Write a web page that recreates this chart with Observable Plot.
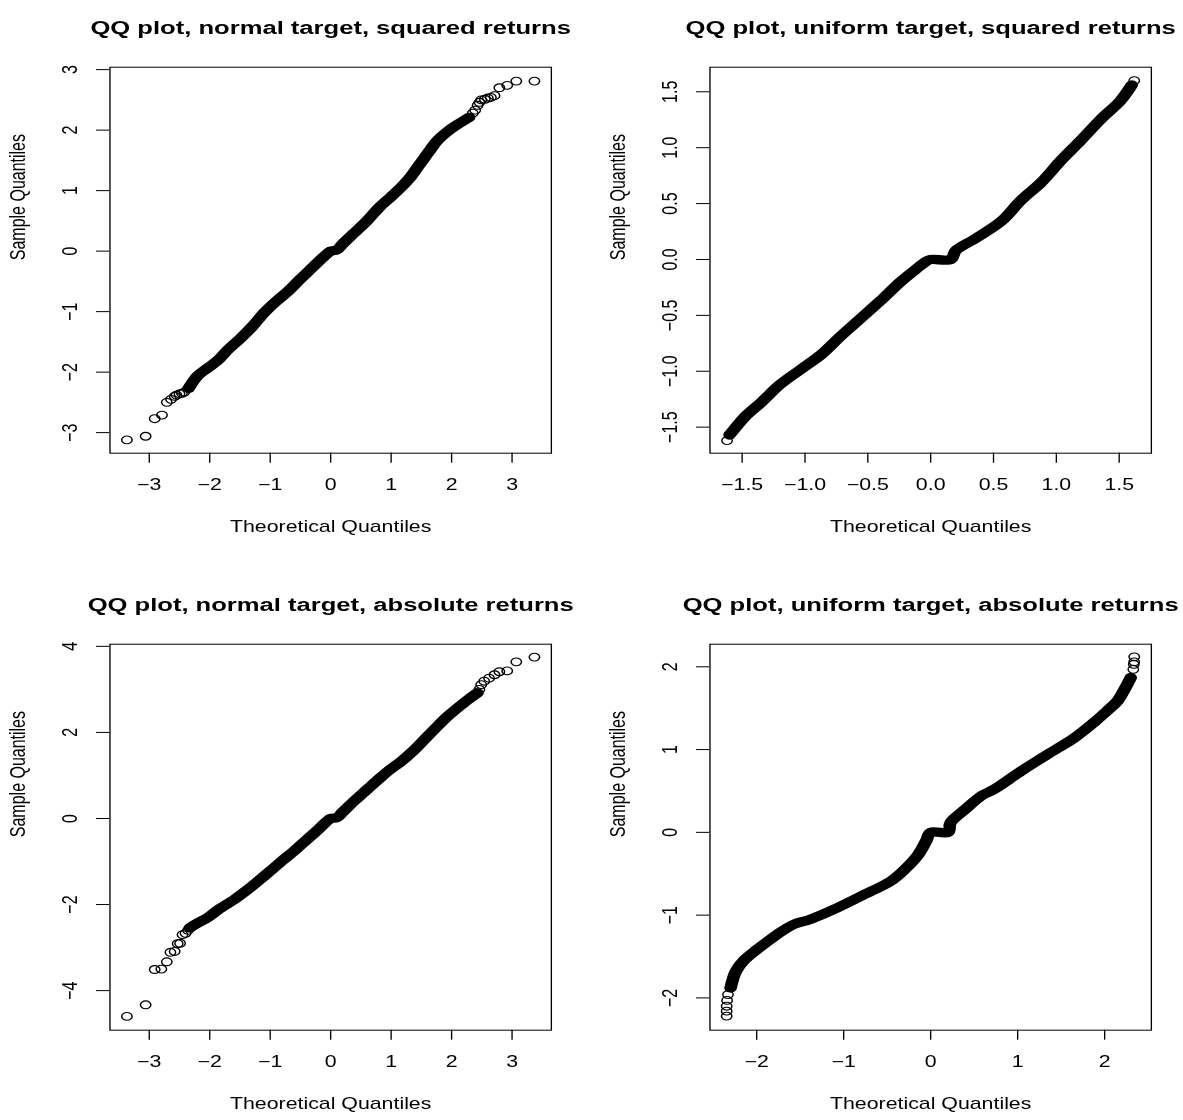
<!DOCTYPE html>
<html>
<head>
<meta charset="utf-8">
<script src="https://cdn.jsdelivr.net/npm/d3@7"></script>
<script src="https://cdn.jsdelivr.net/npm/@observablehq/plot@0.6"></script>
<style>
  html, body { margin: 0; padding: 0; background: #fff; }
  #page { position: relative; width: 1183px; height: 1120px; overflow: hidden; background: #fff; }
  #stretch { position: absolute; left: 0; top: 0; height: 1120px; transform-origin: 0 0; }
  #stretch svg { position: absolute; overflow: visible; }
</style>
</head>
<body>
<div id="page"><div id="stretch"></div></div>
<script>
// ---- text ----
const titles = [
  "QQ plot, normal target, squared returns",
  "QQ plot, uniform target, squared returns",
  "QQ plot, normal target, absolute returns",
  "QQ plot, uniform target, absolute returns"
];
const xLabel = "Theoretical Quantiles";
const yLabel = "Sample Quantiles";

// ---- tick values ----
const ticksNormX = [-3, -2, -1, 0, 1, 2, 3];
const ticksP1Y = [-3, -2, -1, 0, 1, 2, 3];
const ticksP2 = [-1.5, -1.0, -0.5, 0.0, 0.5, 1.0, 1.5];
const ticksP3Y = [-4, -2, 0, 2, 4];
const ticksP4 = [-2, -1, 0, 1, 2];

// ---- panel 1: normal target, squared returns (theoretical, sample) ----
const p1Band = [[-2.35,-2.27],[-2.2,-2.06],[-2.03,-1.93],[-1.86,-1.8],[-1.7,-1.63],[-1.5,-1.45],[-1.3,-1.25],[-1.1,-1.02],[-0.9,-0.83],[-0.7,-0.66],[-0.5,-0.46],[-0.3,-0.27],[-0.1,-0.08],[0,0],[0.1,0.02],[0.2,0.12],[0.4,0.31],[0.6,0.5],[0.8,0.72],[1.0,0.9],[1.17,1.06],[1.3,1.2],[1.44,1.39],[1.55,1.54],[1.63,1.65],[1.74,1.8],[1.83,1.89],[1.99,2.02],[2.16,2.13],[2.29,2.21]];
const p1Tail = [[-3.37,-3.12],[-3.06,-3.06],[-2.91,-2.77],[-2.79,-2.71],[-2.71,-2.5],[-2.64,-2.45],[-2.58,-2.4],[-2.55,-2.38],[-2.5,-2.36],[-2.46,-2.35],[-2.42,-2.33],[2.35,2.28],[2.39,2.33],[2.43,2.41],[2.46,2.46],[2.49,2.5],[2.55,2.51],[2.6,2.53],[2.65,2.54],[2.71,2.57],[2.79,2.7],[2.92,2.74],[3.07,2.81],[3.37,2.81]];

// ---- panel 2: uniform target, squared returns ----
const p2Band = [[-1.6,-1.57],[-1.55,-1.5],[-1.48,-1.41],[-1.34,-1.27],[-1.2,-1.12],[-1.03,-0.98],[-0.87,-0.85],[-0.72,-0.69],[-0.56,-0.53],[-0.4,-0.37],[-0.24,-0.2],[-0.12,-0.09],[-0.04,-0.02],[0,0],[0.16,0],[0.2,0.08],[0.36,0.19],[0.56,0.34],[0.72,0.53],[0.88,0.69],[1.04,0.89],[1.19,1.06],[1.35,1.25],[1.51,1.42],[1.6,1.56]];
const p2Tail = [[-1.62,-1.62],[1.62,1.6]];

// ---- panel 3: normal target, absolute returns ----
const p3Band = [[-2.33,-2.54],[-2.2,-2.43],[-2.03,-2.3],[-1.86,-2.12],[-1.59,-1.88],[-1.37,-1.65],[-1.15,-1.4],[-1.0,-1.22],[-0.8,-0.98],[-0.6,-0.75],[-0.4,-0.5],[-0.2,-0.25],[-0.05,-0.05],[0,0],[0.1,0.02],[0.2,0.15],[0.4,0.42],[0.6,0.67],[0.8,0.92],[0.95,1.1],[1.17,1.33],[1.35,1.55],[1.5,1.76],[1.77,2.15],[1.94,2.38],[2.1,2.57],[2.27,2.76],[2.43,2.92]];
const p3Tail = [[-3.37,-4.6],[-3.06,-4.33],[-2.91,-3.51],[-2.8,-3.5],[-2.71,-3.33],[-2.65,-3.11],[-2.58,-3.09],[-2.53,-2.91],[-2.49,-2.9],[-2.45,-2.7],[-2.4,-2.67],[-2.36,-2.6],[2.46,3.0],[2.49,3.11],[2.54,3.19],[2.62,3.26],[2.71,3.34],[2.79,3.41],[2.92,3.43],[3.07,3.64],[3.37,3.75]];

// ---- panel 4: uniform target, absolute returns ----
const p4Band = [[-2.3,-1.88],[-2.24,-1.68],[-2.14,-1.54],[-1.99,-1.41],[-1.76,-1.23],[-1.57,-1.11],[-1.38,-1.05],[-1.11,-0.93],[-0.8,-0.77],[-0.46,-0.59],[-0.3,-0.45],[-0.15,-0.28],[-0.05,-0.1],[0,0],[0.2,0],[0.23,0.12],[0.4,0.28],[0.58,0.44],[0.73,0.52],[1.04,0.74],[1.34,0.94],[1.65,1.14],[1.88,1.33],[2.03,1.47],[2.15,1.59],[2.23,1.73],[2.3,1.87]];
const p4Tail = [[-2.345,-2.22],[-2.345,-2.16],[-2.345,-2.1],[-2.34,-2.03],[-2.33,-1.96],[2.34,2.12],[2.34,2.06],[2.335,2.03],[2.33,1.97]];

// ---- layout (reference is stretched horizontally by S) ----
const S = 4 / 3;
const PAGE_W = 1183, PAGE_H = 1120;
const ROW2_TOP = 576.6;
const FONT = "'Liberation Sans', Arial, Helvetica, sans-serif";

const stretch = document.getElementById("stretch");
stretch.style.width = (PAGE_W / S) + "px";
stretch.style.transform = `scaleX(${S})`;

const fmt1 = d3.format(".1f");
const fmt0 = d3.format("d");

function panel({col, row, title, band, tail, xDomain, yDomain, xTicks, yTicks, fmt}) {
  const left = col === 0 ? 0 : 600 / S;
  const width = col === 0 ? 600 / S : PAGE_W / S - 600 / S;
  const top = row === 0 ? 0 : ROW2_TOP;
  const height = row === 0 ? ROW2_TOP : PAGE_H - ROW2_TOP;
  const mL = 109.3 / S, frameW = 441.4 / S;
  const mT = 66.7, frameH = 386;
  const chart = Plot.plot({
    width, height,
    marginLeft: mL, marginRight: width - mL - frameW,
    marginTop: mT, marginBottom: height - mT - frameH,
    x: {domain: xDomain},
    y: {domain: yDomain},
    style: {fontFamily: FONT, color: "#000", background: "transparent", overflow: "visible"},
    marks: [
      Plot.line(band, {x: d => d[0], y: d => d[1], stroke: "#000", strokeWidth: 9.4, strokeLinecap: "round", strokeLinejoin: "round", curve: "catmull-rom"}),
      Plot.dot(tail, {x: d => d[0], y: d => d[1], r: 3.9, stroke: "#000", strokeWidth: 1.1, fill: "none"}),
      Plot.frame({stroke: "#000", strokeWidth: 1}),
      Plot.axisX(xTicks, {tickSize: 10, tickPadding: 15.9, fontSize: 16, tickFormat: fmt, label: null}),
      Plot.axisY(yTicks, {tickSize: 10, tickPadding: 14.5, tickRotate: -90, fontSize: 16, tickFormat: fmt, label: null}),
      Plot.text([title], {text: d => d, frameAnchor: "top", dy: -32.7, lineAnchor: "bottom", fontWeight: "bold", fontSize: 19.2}),
      Plot.text([xLabel], {text: d => d, frameAnchor: "bottom", dy: 79.3, lineAnchor: "bottom", fontSize: 16}),
      Plot.text([yLabel], {text: d => d, frameAnchor: "left", dx: -63.5, rotate: -90, lineAnchor: "bottom", fontSize: 16})
    ]
  });
  chart.style.left = left + "px";
  chart.style.top = top + "px";
  stretch.appendChild(chart);
}

panel({col: 0, row: 0, title: titles[0], band: p1Band, tail: p1Tail, xDomain: [-3.65, 3.65], yDomain: [-3.34, 3.04], xTicks: ticksNormX, yTicks: ticksP1Y, fmt: fmt0});
panel({col: 1, row: 0, title: titles[1], band: p2Band, tail: p2Tail, xDomain: [-1.756, 1.756], yDomain: [-1.733, 1.72], xTicks: ticksP2, yTicks: ticksP2, fmt: fmt1});
panel({col: 0, row: 1, title: titles[2], band: p3Band, tail: p3Tail, xDomain: [-3.65, 3.65], yDomain: [-4.92, 4.05], xTicks: ticksNormX, yTicks: ticksP3Y, fmt: fmt0});
panel({col: 1, row: 1, title: titles[3], band: p4Band, tail: p4Tail, xDomain: [-2.537, 2.537], yDomain: [-2.39, 2.273], xTicks: ticksP4, yTicks: ticksP4, fmt: fmt0});
</script>
</body>
</html>
